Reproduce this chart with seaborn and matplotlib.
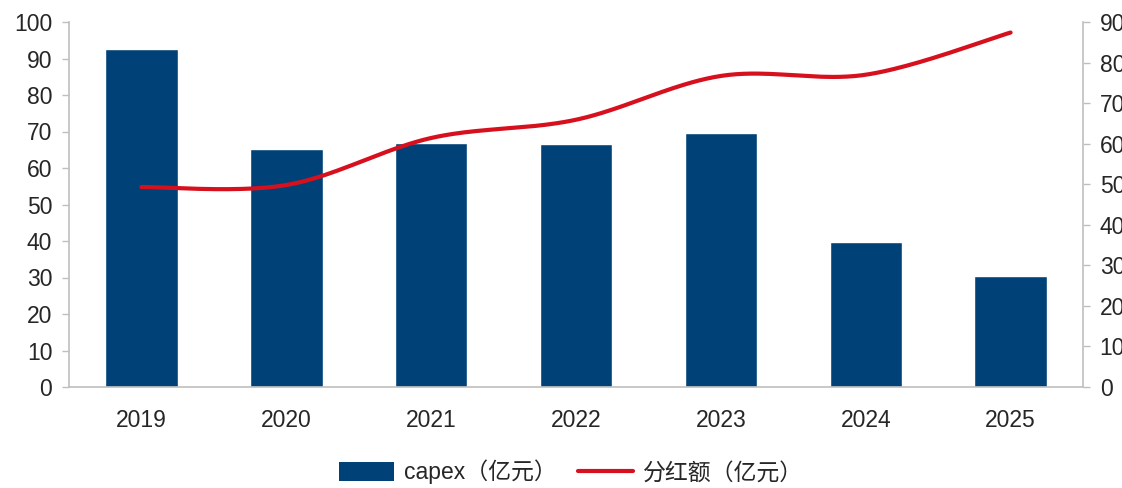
import numpy as np
import pandas as pd
import matplotlib
matplotlib.use("Agg")
import matplotlib.pyplot as plt
from matplotlib.lines import Line2D
from matplotlib.patches import Patch
import seaborn as sns

years = ["2019", "2020", "2021", "2022", "2023", "2024", "2025"]
capex = [92.6, 65.2, 66.8, 66.6, 69.6, 39.7, 30.4]
dividend = [49.3, 49.8, 61.4, 65.9, 76.7, 77.0, 87.4]
left_ticks = [0, 10, 20, 30, 40, 50, 60, 70, 80, 90, 100]
right_ticks = [0, 10, 20, 30, 40, 50, 60, 70, 80, 90]
label_bar = "capex（亿元）"
label_line = "分红额（亿元）"

sns.set_style("white")
plt.rcParams["font.family"] = ["Liberation Sans", "Noto Sans CJK SC", "DejaVu Sans"]

BAR = "#004277"
RED = "#D7101E"
GRAY = "#BFBFBF"
FS = 16.5

fig = plt.figure(figsize=(11.22, 4.88), dpi=100)
ax = fig.add_axes([69 / 1122, 1 - 387 / 488, (1083 - 69) / 1122, (387 - 22) / 488])

df = pd.DataFrame({"year": years, "capex": capex})
sns.barplot(data=df, x="year", y="capex", color=BAR, width=0.5, saturation=1, ax=ax)
ax.set_xlim(-0.5, len(years) - 0.5)
ax.set_ylim(0, 100)
ax.set_yticks(left_ticks)
ax.set_xlabel("")
ax.set_ylabel("")
ax.tick_params(axis="y", which="both", direction="out", length=5, width=1, color=GRAY,
               labelsize=FS, pad=7, left=True)
ax.tick_params(axis="x", length=0, labelsize=FS, pad=16)
for s in ["top", "right"]:
    ax.spines[s].set_visible(False)
for s in ["left", "bottom"]:
    ax.spines[s].set_color(GRAY)
    ax.spines[s].set_linewidth(1.2)

ax2 = ax.twinx()
# Smoothed line (Catmull-Rom through the data points, like Excel smoothing)
x = np.arange(len(dividend), dtype=float)
y = np.array(dividend, dtype=float)
px = np.concatenate([[x[0]], x, [x[-1]]])
py = np.concatenate([[y[0]], y, [y[-1]]])
xs, ys = [], []
t = np.linspace(0, 1, 40)
for i in range(1, len(px) - 2):
    p0, p1, p2, p3 = [np.array([px[j], py[j]]) for j in (i - 1, i, i + 1, i + 2)]
    c1 = p1 + (p2 - p0) / 6
    c2 = p2 - (p3 - p1) / 6
    seg = ((1 - t) ** 3)[:, None] * p1 + (3 * (1 - t) ** 2 * t)[:, None] * c1 + \
          (3 * (1 - t) * t ** 2)[:, None] * c2 + (t ** 3)[:, None] * p2
    xs.extend(seg[:, 0]); ys.extend(seg[:, 1])
ax2.plot(xs, ys, color=RED, lw=3, solid_capstyle="round")
ax2.set_ylim(0, 90)
ax2.set_yticks(right_ticks)
ax2.tick_params(axis="y", which="both", direction="out", length=5, width=1, color=GRAY,
                labelsize=FS, pad=7, right=True)
for s in ["top", "left", "bottom"]:
    ax2.spines[s].set_visible(False)
ax2.spines["right"].set_color(GRAY)
ax2.spines["right"].set_linewidth(1.2)

handles = [Patch(facecolor=BAR, edgecolor="none", label=label_bar),
           Line2D([0], [0], color=RED, lw=3, label=label_line)]
fig.legend(handles=handles, loc="center", bbox_to_anchor=(0.509, 1 - 472 / 488), ncol=2,
           frameon=False, fontsize=FS, handlelength=2.4, handleheight=0.9,
           columnspacing=0.9, handletextpad=0.45)

fig.savefig("out.png", dpi=100)
